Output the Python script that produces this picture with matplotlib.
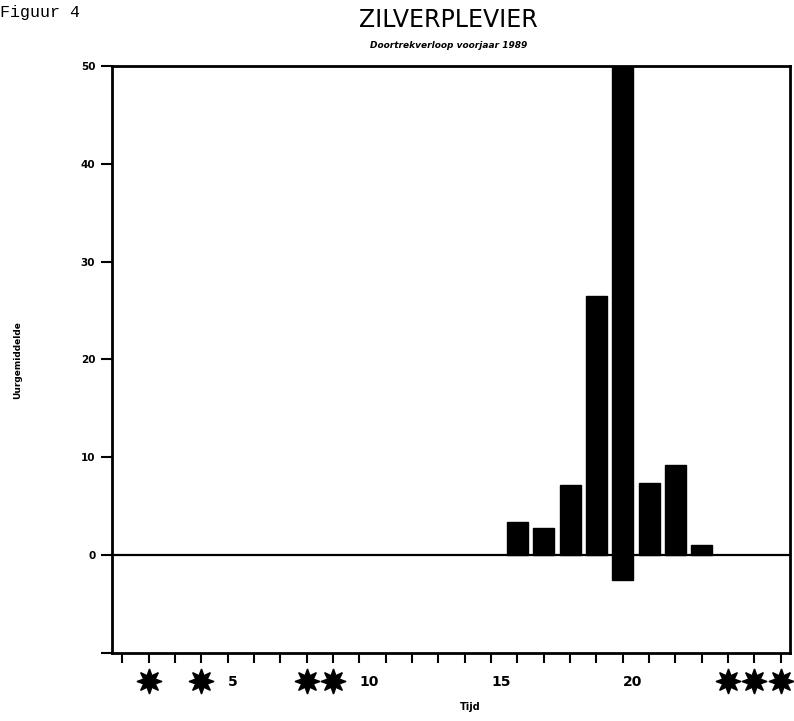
import matplotlib
matplotlib.use("Agg")
import matplotlib.pyplot as plt
from matplotlib.transforms import blended_transform_factory

# data
tijd = [16, 17, 18, 19, 20, 21, 22, 23]
uurgemiddelde = [3.4, 2.8, 7.2, 26.5, 52.0, 7.4, 9.2, 1.0]
basis = [0, 0, 0, 0, -2.5, 0, 0, 0]
ster_posities = [2, 4, 8, 9, 24, 25, 26]
x_ticks = list(range(1, 27))
x_labels = {5: "5", 10: "10", 15: "15", 20: "20"}
y_ticks = [-10, 0, 10, 20, 30, 40, 50]
y_labels = ["", "0", "10", "20", "30", "40", "50"]

fig = plt.figure(figsize=(7.94, 7.21), dpi=100)
ax = fig.add_axes([0.141, 0.0943, 0.854, 0.8142])

ax.bar(tijd, [v - b for v, b in zip(uurgemiddelde, basis)], bottom=basis,
       width=0.8, color="black", edgecolor="black", zorder=3)
ax.axhline(0, color="black", lw=1.6, zorder=2)

ax.set_xlim(0.6, 26.35)
ax.set_ylim(-10, 50)

for s in ax.spines.values():
    s.set_linewidth(2.0)
    s.set_color("black")

ax.set_xticks(x_ticks)
ax.set_xticklabels([x_labels.get(t, "") for t in x_ticks],
                   fontsize=10, fontweight="bold", fontfamily="DejaVu Sans")
ax.tick_params(axis="x", direction="out", length=7, width=1.5, pad=9)
ax.set_yticks(y_ticks)
ax.set_yticklabels(y_labels, fontsize=7.5, fontweight="bold")
ax.tick_params(axis="y", direction="out", length=8, width=1.5, pad=4)
for lbl in ax.get_xticklabels():
    lbl.set_horizontalalignment("left")

trans = blended_transform_factory(ax.transData, ax.transAxes)
ax.plot(ster_posities, [-0.047] * len(ster_posities), linestyle="none",
        marker=(8, 1, 0), markersize=18, color="black", transform=trans,
        clip_on=False)

fig.text(0.592, 0.019, "Tijd", fontsize=7, fontweight="bold", ha="center", va="center")
fig.text(0.022, 0.5, "Uurgemiddelde", fontsize=6.5, fontweight="bold", rotation=90,
         ha="center", va="center")

fig.text(0.565, 0.972, "ZILVERPLEVIER", fontsize=17,
         family=["Liberation Sans Narrow", "DejaVu Sans"],
         ha="center", va="center")
fig.text(0.565, 0.937, "Doortrekverloop voorjaar 1989", fontsize=6.5,
         fontweight="bold", style="italic", ha="center", va="center")
fig.text(0.0, 0.982, "Figuur 4", fontsize=12, family=["Liberation Mono", "DejaVu Sans Mono"],
         ha="left", va="center")

fig.savefig("out.png", dpi=100)
